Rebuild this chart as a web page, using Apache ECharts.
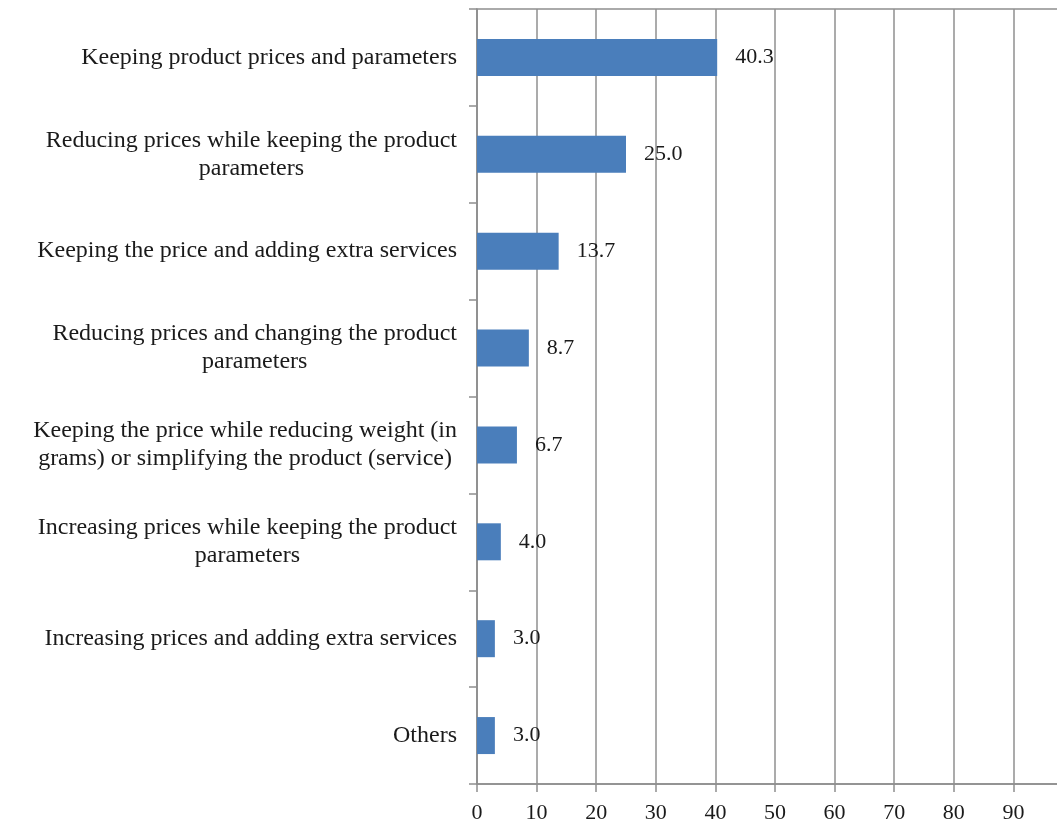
<!DOCTYPE html>
<html>
<head>
<meta charset="utf-8">
<script src="https://cdn.jsdelivr.net/npm/echarts@6/dist/echarts.min.js"></script>
<style>
  html, body { margin: 0; padding: 0; background: #fff; }
  #chart { width: 1057px; height: 823px; }
</style>
</head>
<body>
<div id="chart"></div>
<script>
const categories = [
  'Keeping product prices and parameters',
  'Reducing prices while keeping the product\nparameters',
  'Keeping the price and adding extra services',
  'Reducing prices and changing the product\nparameters',
  'Keeping the price while reducing weight (in\ngrams) or simplifying the product (service)',
  'Increasing prices while keeping the product\nparameters',
  'Increasing prices and adding extra services',
  'Others'
]
const values = [40.3, 25.0, 13.7, 8.7, 6.7, 4.0, 3.0, 3.0]
const xTicks = [0, 10, 20, 30, 40, 50, 60, 70, 80, 90, 100]

const FONT = '"Liberation Serif", "Times New Roman", serif'
const LINE = '#8f8f8f'

const chart = echarts.init(document.getElementById('chart'))

chart.setOption({
  animation: false,
  grid: {
    left: 477,
    right: -16,
    top: 9,
    bottom: 39,
    show: true,
    borderColor: LINE,
    borderWidth: 1.5,
    outerBoundsMode: 'none'
  },
  xAxis: {
    type: 'value',
    min: xTicks[0],
    max: xTicks[xTicks.length - 1],
    interval: 10,
    axisLine: { show: true, lineStyle: { color: LINE, width: 1.5 } },
    axisTick: { show: true, length: 8, lineStyle: { color: LINE, width: 1.5 } },
    splitLine: { show: true, lineStyle: { color: LINE, width: 1.5 } },
    axisLabel: {
      margin: 18,
      color: '#1a1a1a',
      fontFamily: FONT,
      fontSize: 22,
      showMaxLabel: true
    }
  },
  yAxis: {
    type: 'category',
    inverse: true,
    data: categories,
    axisLine: { show: true, lineStyle: { color: LINE, width: 1.5 } },
    axisTick: { show: true, length: 8, lineStyle: { color: LINE, width: 1.5 } },
    axisLabel: {
      margin: 20,
      color: '#1a1a1a',
      fontFamily: FONT,
      fontSize: 24,
      lineHeight: 28,
      formatter: (v) => v.split('\n').map(s => `{c|${s}}`).join('\n'),
      rich: {
        c: {
          align: 'center',
          color: '#1a1a1a',
          fontFamily: FONT,
          fontSize: 24,
          lineHeight: 28
        }
      }
    }
  },
  series: [{
    type: 'bar',
    data: values,
    barWidth: 37,
    itemStyle: { color: '#4a7ebb' },
    label: {
      show: true,
      position: 'right',
      distance: 18,
      color: '#1a1a1a',
      fontFamily: FONT,
      fontSize: 22,
      formatter: (p) => p.value.toFixed(1)
    }
  }]
})
</script>
</body>
</html>
